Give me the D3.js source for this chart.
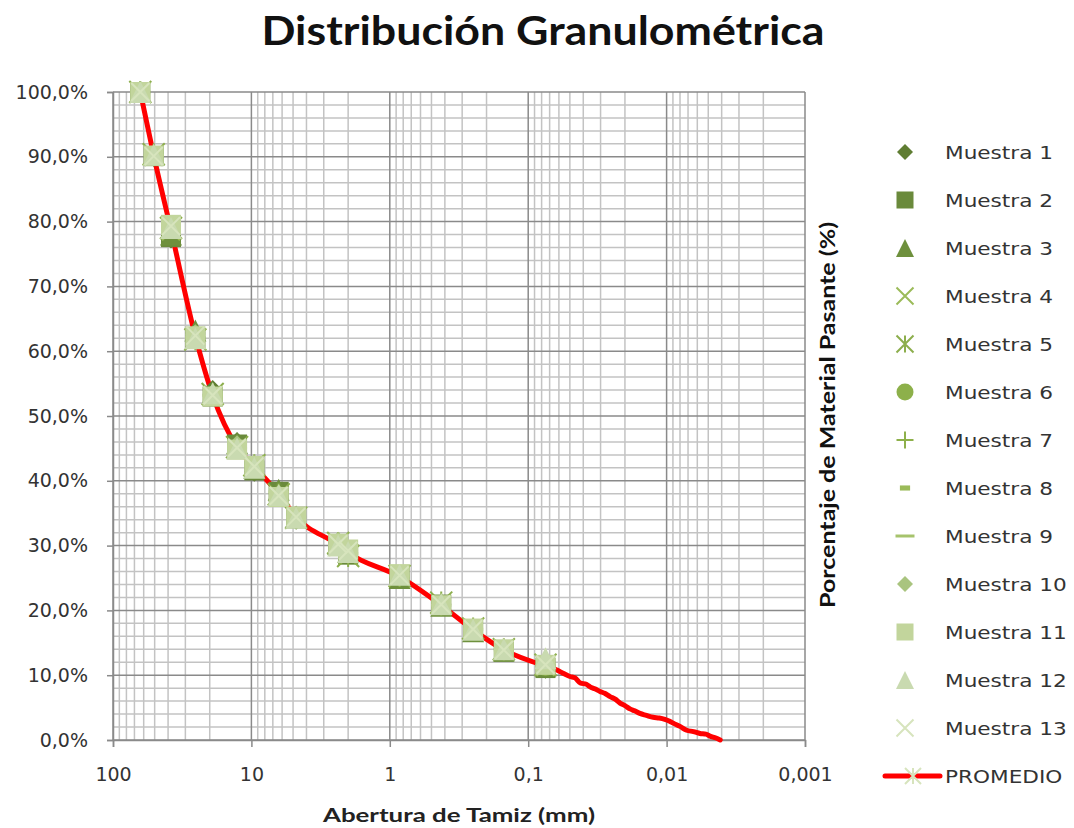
<!DOCTYPE html>
<html>
<head>
<meta charset="utf-8">
<script src="https://cdn.jsdelivr.net/npm/d3@7"></script>
<style>
  html, body { margin: 0; padding: 0; background: #ffffff; }
  svg { display: block; }
</style>
</head>
<body>
<svg id="chart" width="1074" height="828"></svg>
<script>
// ---------------- DATA ----------------
const chartTitle = "Distribución Granulométrica";
const xAxisTitle = "Abertura de Tamiz (mm)";
const yAxisTitle = "Porcentaje de Material Pasante (%)";

const xTickValues = [100, 10, 1, 0.1, 0.01, 0.001];
const xTickLabels = ["100", "10", "1", "0,1", "0,01", "0,001"];
const yTickValues = [0, 10, 20, 30, 40, 50, 60, 70, 80, 90, 100];
const yTickLabels = ["0,0%", "10,0%", "20,0%", "30,0%", "40,0%", "50,0%", "60,0%", "70,0%", "80,0%", "90,0%", "100,0%"];

// sieve openings (mm)
const sieveSizes = [63.5, 50.8, 38.1, 25.4, 19.05, 12.7, 9.525, 6.35, 4.75, 2.36, 2.0, 0.85, 0.425, 0.25, 0.15, 0.075];

const seriesNames = ["Muestra 1", "Muestra 2", "Muestra 3", "Muestra 4", "Muestra 5", "Muestra 6", "Muestra 7",
  "Muestra 8", "Muestra 9", "Muestra 10", "Muestra 11", "Muestra 12", "Muestra 13"];

const muestra1  = [100, 90.0, 77.4, 62.8, 54.0, 46.0, 41.4, 38.5, 34.0, 30.5, 29.2, 25.0, 21.0, 17.2, 14.0, 11.0];
const muestra2  = [100, 90.1, 77.6, 62.0, 53.0, 45.6, 41.6, 38.3, 34.2, 30.0, 28.6, 25.3, 20.9, 17.0, 13.6, 11.1];
const muestra3  = [100, 90.3, 78.0, 63.2, 53.6, 45.8, 42.0, 38.6, 34.5, 30.3, 29.0, 25.0, 20.7, 16.8, 13.8, 11.5];
const muestra4  = [100, 90.0, 78.5, 62.0, 53.0, 45.0, 42.5, 37.8, 34.5, 29.8, 28.5, 25.5, 21.0, 17.3, 14.1, 11.3];
const muestra5  = [100, 90.4, 79.0, 61.8, 53.4, 45.2, 42.4, 37.9, 34.3, 30.4, 28.4, 25.3, 21.2, 17.2, 14.0, 11.6];
const muestra6  = [100, 90.2, 78.8, 62.5, 53.1, 45.0, 42.2, 37.6, 34.4, 30.2, 29.1, 25.4, 20.8, 17.1, 13.9, 11.3];
const muestra7  = [100, 90.1, 79.2, 62.2, 53.3, 45.3, 42.1, 38.1, 34.6, 30.0, 28.9, 25.2, 20.6, 17.0, 13.7, 11.4];
const muestra8  = [100, 90.0, 78.9, 62.4, 53.6, 45.4, 42.6, 38.4, 34.7, 30.1, 28.7, 25.1, 20.9, 16.9, 13.8, 11.2];
const muestra9  = [100, 90.2, 78.6, 62.1, 53.2, 45.1, 42.3, 38.2, 34.4, 30.2, 28.8, 25.3, 20.8, 17.1, 13.9, 11.5];
const muestra10 = [100, 90.3, 79.1, 62.6, 53.4, 45.5, 42.4, 37.9, 34.3, 30.6, 29.0, 25.4, 20.9, 17.2, 14.1, 11.7];
const muestra11 = [100, 90.2, 79.5, 62.3, 53.0, 44.8, 42.3, 37.5, 34.5, 30.3, 29.4, 25.6, 20.8, 17.2, 14.0, 11.6];
const muestra12 = [100, 90.3, 79.0, 62.0, 53.5, 45.0, 42.0, 37.8, 34.3, 30.0, 29.0, 25.5, 21.0, 17.0, 14.0, 12.6];
const muestra13 = [100, 90.1, 79.3, 62.4, 53.2, 45.1, 42.2, 37.7, 34.4, 30.2, 29.2, 25.4, 20.9, 17.1, 13.9, 11.6];
const seriesValues = [muestra1, muestra2, muestra3, muestra4, muestra5, muestra6, muestra7,
  muestra8, muestra9, muestra10, muestra11, muestra12, muestra13];

// PROMEDIO (sieve + hydrometer)
const promedioName = "PROMEDIO";
const promedioSizes = [63.5, 50.8, 38.1, 25.4, 19.05, 12.7, 9.525, 6.35, 4.75, 2.36, 2.0, 0.85, 0.425, 0.25, 0.15, 0.075,
  0.062, 0.056, 0.050, 0.046, 0.042, 0.038, 0.0357, 0.033, 0.0303, 0.028, 0.0256, 0.0235, 0.0217, 0.020, 0.0184,
  0.017, 0.0156, 0.014, 0.0125, 0.0113, 0.0103, 0.0095, 0.00895, 0.008, 0.00716, 0.0064, 0.00574, 0.0052, 0.00486, 0.0044, 0.0041];
const promedioValues = [100, 90.2, 78.7, 62.3, 53.2, 45.2, 42.2, 38.0, 34.4, 30.1, 28.9, 25.2, 20.8, 17.0, 13.9, 11.4,
  10.8, 10.3, 9.8, 9.6, 8.8, 8.6, 8.2, 7.9, 7.5, 7.2, 6.7, 6.3, 5.7, 5.3, 4.8,
  4.5, 4.1, 3.8, 3.5, 3.4, 3.2, 2.9, 2.6, 2.1, 1.5, 1.3, 1.0, 0.9, 0.6, 0.3, 0.0];

// ---------------- STYLES ----------------
const seriesShapes = ["diamond", "square", "triangle", "x", "asterisk", "circle", "plus", "bar", "dash", "diamond", "square", "triangle", "x"];
const seriesColors = ["#5f7d32", "#6a8a3b", "#6e903d", "#9bbb59", "#8cae4c", "#8db04a", "#8db04a", "#9bbb59", "#a6c36c",
  "#a9c47f", "#c2d59c", "#c9dab0", "#d7e4bd"];

// ---------------- CHART ----------------
const svg = d3.select("#chart");
const plotLeft = 113, plotRight = 805, plotTop = 92, plotBottom = 740;

const x = d3.scaleLog().domain([100, 0.001]).range([plotLeft, plotRight]);
const y = d3.scaleLinear().domain([0, 100]).range([plotBottom, plotTop]);

const grid = svg.append("g");
const minorX = [];
[100, 10, 1, 0.1, 0.01].forEach(d => { for (let k = 2; k <= 9; k++) minorX.push(d / 10 * k); });
grid.selectAll("line.vminor").data(minorX).join("line")
  .attr("x1", d => x(d)).attr("x2", d => x(d)).attr("y1", plotTop).attr("y2", plotBottom)
  .attr("stroke", "#c3c3c3").attr("stroke-width", 1.5);
const minorY = d3.range(2, 100, 2).filter(v => v % 10 !== 0);
grid.selectAll("line.hminor").data(minorY).join("line")
  .attr("x1", plotLeft).attr("x2", plotRight).attr("y1", d => y(d)).attr("y2", d => y(d))
  .attr("stroke", "#c3c3c3").attr("stroke-width", 1.5);
grid.selectAll("line.vmajor").data(xTickValues).join("line")
  .attr("x1", d => x(d)).attr("x2", d => x(d)).attr("y1", plotTop).attr("y2", plotBottom)
  .attr("stroke", "#8a8a8a").attr("stroke-width", 1.5);
grid.selectAll("line.hmajor").data(yTickValues).join("line")
  .attr("x1", plotLeft).attr("x2", plotRight).attr("y1", d => y(d)).attr("y2", d => y(d))
  .attr("stroke", "#8a8a8a").attr("stroke-width", 1.5);

// axes
const xAxis = d3.axisBottom(x).tickValues(xTickValues).tickFormat((d, i) => xTickLabels[i]).tickSize(7).tickPadding(21);
const gx = svg.append("g").attr("transform", `translate(0,${plotBottom})`).call(xAxis);
const yAxis = d3.axisLeft(y).tickValues(yTickValues).tickFormat((d, i) => yTickLabels[i]).tickSize(6).tickPadding(19);
const gy = svg.append("g").attr("transform", `translate(${plotLeft},0)`).call(yAxis);
[gx, gy].forEach(g => {
  g.select(".domain").attr("stroke", "#8a8a8a").attr("stroke-width", 1.5);
  g.selectAll(".tick line").attr("stroke", "#8a8a8a").attr("stroke-width", 1.5);
  g.selectAll(".tick text").attr("fill", "#333333").style("font-family", "'DejaVu Sans', sans-serif").style("font-size", "19px");
});

// PROMEDIO line (under markers)
const line = d3.line().x(d => x(d[0])).y(d => y(d[1])).curve(d3.curveMonotoneX);
svg.append("path")
  .datum(promedioSizes.map((s, i) => [s, promedioValues[i]]))
  .attr("d", line).attr("fill", "none").attr("stroke", "#ff0000").attr("stroke-width", 5)
  .attr("stroke-linejoin", "round").attr("stroke-linecap", "round");

function drawMarker(g, shape, color, s) {
  const h = s / 2;
  switch (shape) {
    case "diamond":
      g.append("path").attr("d", `M0,${-h}L${h},0L0,${h}L${-h},0Z`).attr("fill", color); break;
    case "square":
      g.append("rect").attr("x", -h).attr("y", -h).attr("width", s).attr("height", s).attr("fill", color); break;
    case "triangle":
      g.append("path").attr("d", `M0,${-h}L${h},${h}L${-h},${h}Z`).attr("fill", color); break;
    case "x":
      g.append("path").attr("d", `M${-h},${-h}L${h},${h}M${h},${-h}L${-h},${h}`).attr("stroke", color).attr("stroke-width", 2).attr("fill", "none"); break;
    case "asterisk":
      g.append("path").attr("d", `M${-h},${-h}L${h},${h}M${h},${-h}L${-h},${h}M0,${-h}L0,${h}`).attr("stroke", color).attr("stroke-width", 2).attr("fill", "none"); break;
    case "circle":
      g.append("circle").attr("r", h).attr("fill", color); break;
    case "plus":
      g.append("path").attr("d", `M${-h},0L${h},0M0,${-h}L0,${h}`).attr("stroke", color).attr("stroke-width", 2).attr("fill", "none"); break;
    case "bar":
      g.append("rect").attr("x", -s * 0.3).attr("y", -s * 0.15).attr("width", s * 0.6).attr("height", s * 0.3).attr("fill", color); break;
    case "dash":
      g.append("path").attr("d", `M${-h},0L${h},0`).attr("stroke", color).attr("stroke-width", 3).attr("fill", "none"); break;
  }
}

const markerSize = { diamond: 20, square: 20, triangle: 22, x: 18, asterisk: 22, circle: 18, plus: 18, bar: 18, dash: 20 };
const markersG = svg.append("g");
seriesValues.forEach((vals, si) => {
  const sg = markersG.append("g");
  vals.forEach((v, i) => {
    const mg = sg.append("g").attr("transform", `translate(${x(sieveSizes[i])},${y(v)})`);
    drawMarker(mg, seriesShapes[si], seriesColors[si], markerSize[seriesShapes[si]]);
  });
});

// legend
const legendSize = { diamond: 16, square: 17, triangle: 18, x: 17, asterisk: 17, circle: 17, plus: 17, bar: 17, dash: 19 };
const legend = svg.append("g");
const legY = d3.scaleLinear().domain([0, 12]).range([152, 728]);
seriesNames.forEach((name, i) => {
  const cy = legY(i);
  const mg = legend.append("g").attr("transform", `translate(905,${cy})`);
  drawMarker(mg, seriesShapes[i], seriesColors[i], legendSize[seriesShapes[i]]);
  legend.append("text").attr("transform", `translate(945,${cy + 7}) scale(1.2,1)`)
    .text(name).attr("fill", "#333333")
    .style("font-family", "'DejaVu Sans', sans-serif").style("font-size", "18px");
});
{
  const cy = legY(13);
  legend.append("line").attr("x1", 885).attr("x2", 940).attr("y1", cy).attr("y2", cy)
    .attr("stroke", "#ff0000").attr("stroke-width", 5).attr("stroke-linecap", "round");
  const mg = legend.append("g").attr("transform", `translate(913,${cy})`);
  drawMarker(mg, "asterisk", "#d7e4bd", 16);
  legend.append("text").attr("transform", `translate(945,${cy + 7}) scale(1.2,1)`)
    .text(promedioName).attr("fill", "#333333")
    .style("font-family", "'DejaVu Sans', sans-serif").style("font-size", "18px");
}

// titles
svg.append("text").attr("x", 543).attr("y", 45).attr("text-anchor", "middle")
  .attr("textLength", 563).attr("lengthAdjust", "spacingAndGlyphs")
  .text(chartTitle).attr("fill", "#111111")
  .style("font-family", "Lato, 'Open Sans', sans-serif").style("font-weight", "700").style("font-size", "40px");

svg.append("text").attr("x", 459).attr("y", 822).attr("text-anchor", "middle")
  .attr("textLength", 272).attr("lengthAdjust", "spacingAndGlyphs")
  .text(xAxisTitle).attr("fill", "#222222")
  .style("font-family", "Lato, 'Open Sans', sans-serif").style("font-weight", "700").style("font-size", "18px");

svg.append("text").attr("transform", "translate(835,415) rotate(-90)").attr("text-anchor", "middle")
  .attr("textLength", 386).attr("lengthAdjust", "spacingAndGlyphs")
  .text(yAxisTitle).attr("fill", "#111111")
  .style("font-family", "Lato, 'Open Sans', sans-serif").style("font-weight", "700").style("font-size", "20px");
</script>
</body>
</html>
